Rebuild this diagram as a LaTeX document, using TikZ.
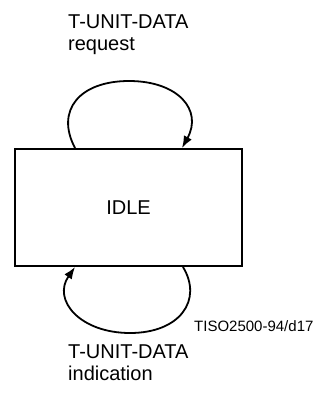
\documentclass[tikz,border=0pt]{standalone}
\usepackage{fontspec}
\setmainfont{Liberation Sans}
\usetikzlibrary{arrows.meta,positioning}
\tikzset{
  state/.style={draw=black,line width=2pt,fill=white,minimum width=227pt,minimum height=117pt,inner sep=0pt,font=\fontsize{20}{22}\selectfont},
  prim/.style={font=\fontsize{20}{22}\selectfont,align=left,inner sep=0pt,anchor=north west},
  ref/.style={font=\fontsize{15}{17}\selectfont,inner sep=0pt,anchor=north west},
  arr/.style={-{Latex[length=12pt,width=9pt]},line width=1.8pt}
}
\begin{document}
\begin{tikzpicture}[x=1pt,y=-1pt]
\path[use as bounding box] (0,0) rectangle (322,416);
\node[state] (idle) at (128.5,207.5) {IDLE};
\node[prim] (req) at (68,15) {T-UNIT-DATA\\request};
\node[prim] (ind) at (68,345) {T-UNIT-DATA\\indication};
\node[ref] (fig) at (194,320) {TISO2500-94/d17};
% loop on top: request
\coordinate (qa) at ([xshift=-53.5pt]idle.north);
\coordinate (qb) at ([xshift=53.5pt]idle.north);
\draw[arr] (qa) .. controls (55,110) and (80,81) .. (129,81)
  .. controls (178,81) and (203,110) .. (qb);
% loop below: indication
\coordinate (ia) at ([xshift=54.5pt]idle.south);
\coordinate (ib) at ([xshift=-53.5pt]idle.south);
\draw[arr] (ia) .. controls (203,300) and (180,333) .. (130,333)
  .. controls (80,333) and (52,300) .. (ib);
\end{tikzpicture}
\end{document}
